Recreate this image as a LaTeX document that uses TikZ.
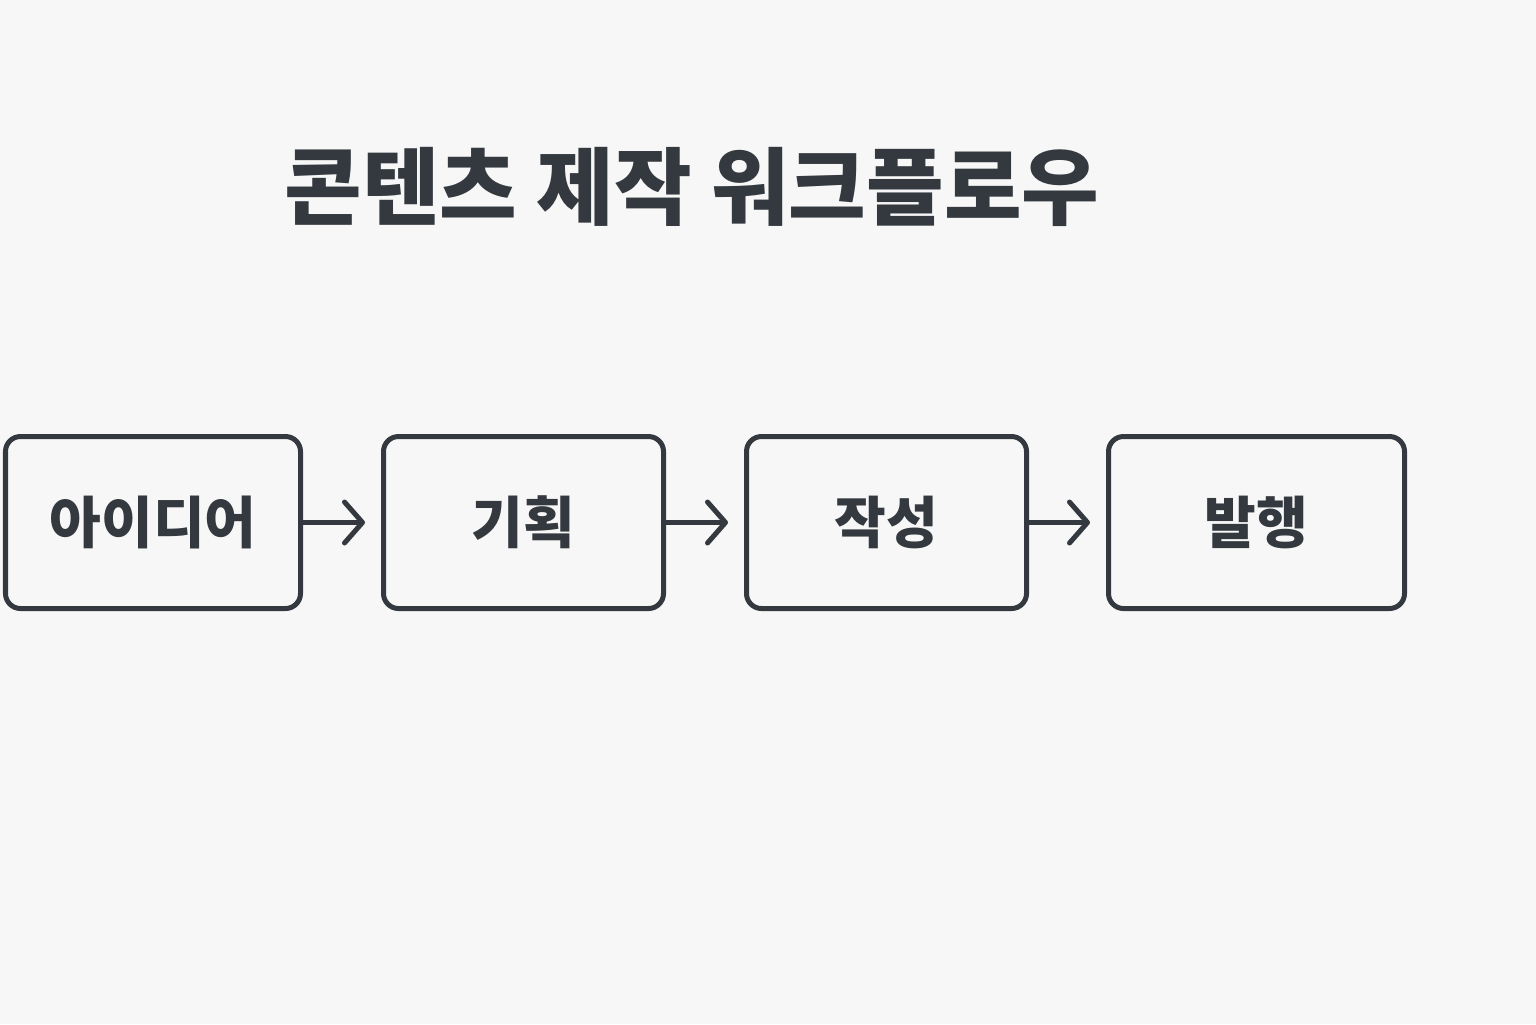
\documentclass[tikz,border=0pt]{standalone}
\usepackage{fontspec}
\setmainfont{Noto Sans CJK KR}
\usetikzlibrary{arrows.meta,positioning}
\definecolor{pageFill}{HTML}{F7F7F7}
\definecolor{inkDraw}{HTML}{33393F}
\tikzset{
  font=\bfseries,
  box/.style  ={draw=inkDraw, fill=pageFill, rounded corners=0.3cm, line width=0.1cm,
                minimum height=3.44cm, text=inkDraw, font=\fontsize{32}{38}\selectfont\bfseries},
  stage/.style={box, minimum width=5.6cm},
  arr/.style  ={-{Straight Barb[length=0.36cm, width=0.82cm, line width=0.1cm, round]},
                line width=0.1cm, draw=inkDraw, shorten >=0.32cm},
  headline/.style={text=inkDraw, font=\fontsize{48}{58}\selectfont\bfseries},
}
\begin{document}
\begin{tikzpicture}
  \fill[pageFill] (0,0) rectangle (30.72,-20.48);
  \useasboundingbox (0,0) rectangle (30.72,-20.48);

  % title above the chain
  \node[headline] (title) at (13.84,-3.74) {콘텐츠 제작 워크플로우};

  \node[box, minimum width=5.9cm] (idea) at (3.06,-10.45) {아이디어};
  \node[stage, right=1.56cm of idea]  (plan)  {기획};
  \node[stage, right=1.56cm of plan]  (write) {작성};
  \node[box, minimum width=5.92cm, right=1.54cm of write] (pub) {발행};
  \foreach \a/\b in {idea/plan, plan/write, write/pub} \draw[arr] (\a) -- (\b);
\end{tikzpicture}
\end{document}
